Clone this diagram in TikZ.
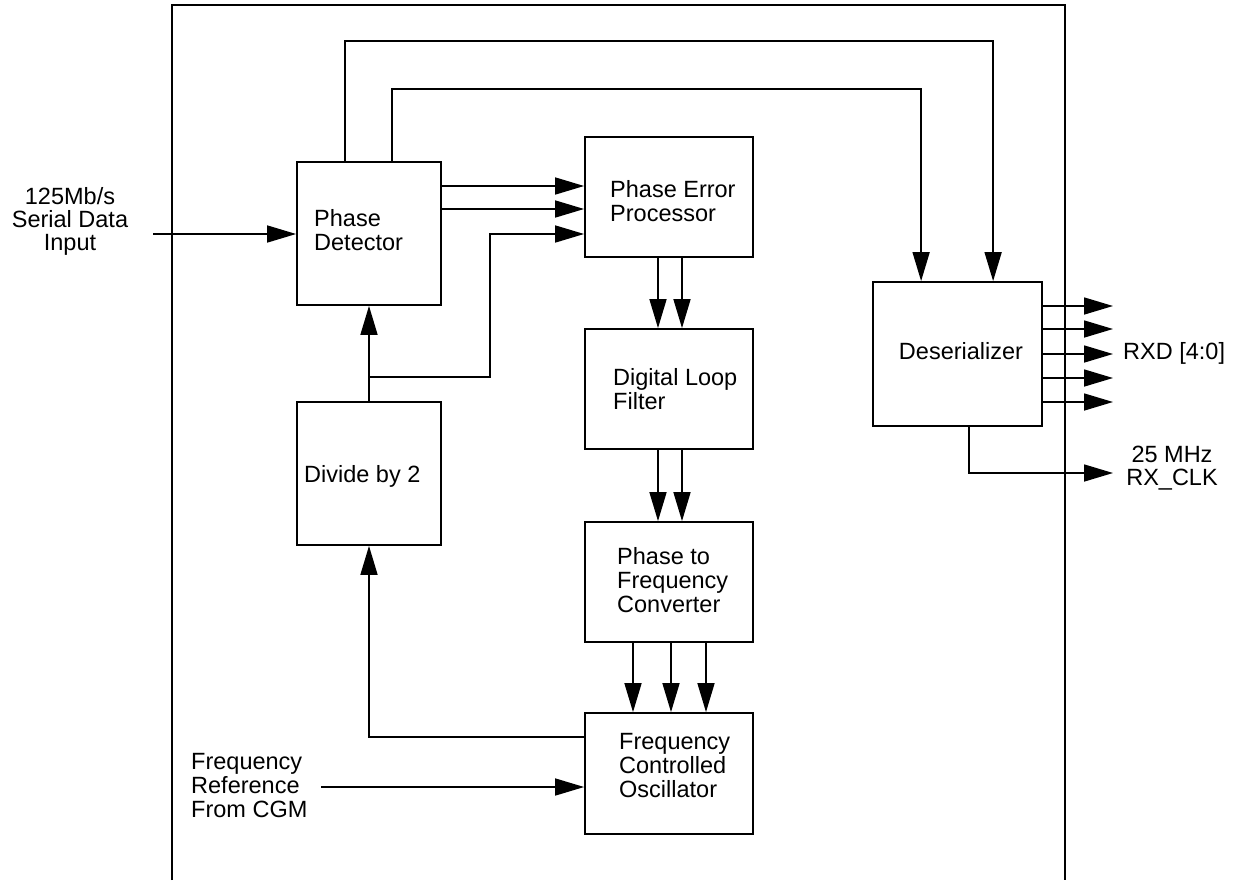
\documentclass[tikz,border=0pt]{standalone}
\usepackage{fontspec}
\setmainfont{Liberation Sans}
\usetikzlibrary{arrows.meta}
\begin{document}
\begin{tikzpicture}[x=1pt,y=-1pt,
  box/.style={draw, line width=1.8pt, inner sep=0pt},
  txt/.style={font=\fontsize{23.5}{24}\selectfont, inner sep=0pt, align=left},
  ctxt/.style={font=\fontsize{23.5}{23}\selectfont, inner sep=0pt, align=center},
  wire/.style={line width=1.6pt},
  arr/.style={wire, -{Triangle[length=29pt,width=17pt]}}]
\useasboundingbox (0,0) rectangle (1238,881);
% outer frame
\draw[line width=2.8pt] (172,880) -- (172,5) -- (1065,5) -- (1065,880);
% boxes
\node[box, minimum width=144pt, minimum height=143pt] (pd)  at (369,233.5) {};
\node[box, minimum width=168pt, minimum height=120pt] (pep) at (669,197) {};
\node[box, minimum width=168pt, minimum height=120pt] (dlf) at (669,389) {};
\node[box, minimum width=168pt, minimum height=120pt] (pfc) at (669,582) {};
\node[box, minimum width=168pt, minimum height=121pt] (fco) at (669,773.5) {};
\node[box, minimum width=144pt, minimum height=143pt] (div) at (369,473.5) {};
\node[box, minimum width=169pt, minimum height=144pt] (des) at (957.5,354) {};
% texts (base anchor = baseline of last line)
\node[txt, anchor=base west] (pdt)  at (314,250) {Phase\\Detector};
\node[txt, anchor=base west] (pept) at (610,221) {Phase Error\\Processor};
\node[txt, anchor=base west] (dlft) at (613,409) {Digital Loop\\Filter};
\node[txt, anchor=base west] (pfct) at (617,612) {Phase to\\Frequency\\Converter};
\node[txt, anchor=base west] (fcot) at (619,797) {Frequency\\Controlled\\Oscillator};
\node[txt, anchor=base west] (divt) at (304,482) {Divide by 2};
\node[txt, anchor=base] (dest) at (961,359) {Deserializer};
\node[ctxt, anchor=base] (inl) at (70,250) {125Mb/s\\Serial Data\\Input};
\node[txt, anchor=base west] (frl) at (191,817) {Frequency\\Reference\\From CGM};
\node[txt, anchor=base west] (rxd) at (1123,359) {RXD [4:0]};
\node[ctxt, anchor=base] (clk) at (1172,485) {25 MHz\\RX\_CLK};
% free ends
\coordinate (inS) at (153,234);
\coordinate (frS) at (321,787);
\coordinate (br) at (369,377);
\coordinate (bk) at (490,234);
\coordinate (fb) at (370,737);
% input
\draw[arr] (inS) -- (pd.west |- inS);
\draw[arr] (frS) -- (fco.west |- frS);
% top wires to deserializer
\draw[arr] ([xshift=49pt]pd.north west) -- ++(0,-120) -| ([xshift=121pt]des.north west);
\draw[arr] ([xshift=96pt]pd.north west) -- ++(0,-72) -| ([xshift=49pt]des.north west);
% PD -> PEP
\draw[arr] (pd.east |- 0,186) -- (pep.west |- 0,186);
\draw[arr] (pd.east |- 0,209) -- (pep.west |- 0,209);
% divide -> PD, branch -> PEP
\draw[arr] (div.north) -- (pd.south);
\draw[arr] (br) -| (bk) -- (pep.west |- bk);
% PEP -> DLF
\draw[arr] (pep.south -| 658,0) -- (dlf.north -| 658,0);
\draw[arr] (pep.south -| 682,0) -- (dlf.north -| 682,0);
% DLF -> PFC
\draw[arr] (dlf.south -| 658,0) -- (pfc.north -| 658,0);
\draw[arr] (dlf.south -| 682,0) -- (pfc.north -| 682,0);
% PFC -> FCO
\draw[arr] (pfc.south -| 633,0) -- (fco.north -| 633,0);
\draw[arr] (pfc.south -| 671,0) -- (fco.north -| 671,0);
\draw[arr] (pfc.south -| 706,0) -- (fco.north -| 706,0);
% feedback FCO -> divide
\draw[arr] (fco.west |- fb) -| (div.south);
% deserializer outputs
\foreach \yy in {306,329,354,378,402}{
  \draw[arr] (des.east |- 0,\yy) -- (1113,\yy);
}
\draw[arr] (des.south -| 969,0) |- (1113,473);
\end{tikzpicture}
\end{document}
